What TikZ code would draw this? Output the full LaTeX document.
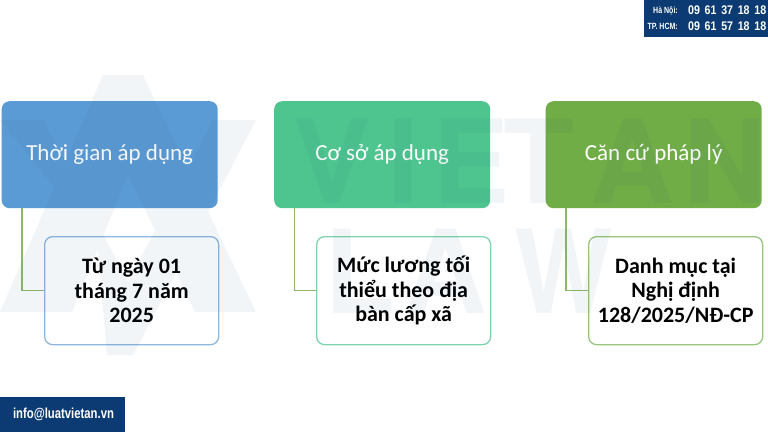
\documentclass[tikz,border=0pt]{standalone}
\usepackage{fontspec}
\setmainfont{Carlito}
\newfontfamily\wmf{TeX Gyre Heros}
\newfontfamily\narrowf[FakeStretch=0.78]{Liberation Sans}
\newfontfamily\phonef[FakeStretch=0.85,WordSpace=1.6]{Liberation Sans}
\tikzset{x=1pt,y=-1pt,
 topbox/.style={rounded corners=8pt,text=white,font=\fontsize{23}{26}\selectfont,minimum width=216pt,minimum height=107pt,inner sep=0pt,anchor=north west},
 subbox/.style={rounded corners=8pt,draw,line width=1.3pt,fill=white,text=black,font=\bfseries\fontsize{22}{24.5}\selectfont,minimum width=174pt,minimum height=108pt,inner sep=0pt,anchor=north west,align=center},
 link/.style={draw=linkgreen,line width=1.3pt},
 wm/.style={fill=wmcol,fill opacity=0.055,draw=none},
 wmtext/.style={text=wmcol,text opacity=0.055,font=\wmf\bfseries\fontsize{116}{116}\selectfont,inner sep=0pt,anchor=base west},
 band/.style={fill=navy,inner sep=0pt,anchor=north west},
 smalltxt/.style={text=white,font=\narrowf\bfseries\fontsize{9}{10}\selectfont,anchor=east,inner sep=0pt},
 phonetxt/.style={text=white,font=\phonef\bfseries\fontsize{12.5}{14}\selectfont,anchor=west,inner sep=0pt},
}
\definecolor{wmcol}{HTML}{1F4E79}
\definecolor{navy}{HTML}{0B3B72}
\definecolor{linkgreen}{HTML}{8DB86B}
\definecolor{cblue}{HTML}{5B9BD5}
\definecolor{cteal}{HTML}{4EC58F}
\definecolor{cgreen}{HTML}{70AD47}
\definecolor{lblue}{HTML}{8DB8DF}
\definecolor{lteal}{HTML}{7FD4AE}
\definecolor{lgreen}{HTML}{98C67C}
\begin{document}
\begin{tikzpicture}
\useasboundingbox (0,0) rectangle (768,432);
\fill[white] (0,0) rectangle (768,432);
\node[topbox,fill=cblue] (a1) at (1.5,101) {\raisebox{-1.5pt}{Thời gian áp dụng}};
\node[topbox,fill=cteal] (b1) at (274,101) {\raisebox{-1.5pt}{Cơ sở áp dụng}};
\node[topbox,fill=cgreen] (c1) at (545.5,101) {\raisebox{-1.5pt}{Căn cứ pháp lý}};
\node[subbox,draw=lblue] (a2) at (44,236) {Từ ngày 01\\tháng 7 năm\\2025};
\node[subbox,draw=lteal] (b2) at (316,236) {Mức lương tối\\thiểu theo địa\\bàn cấp xã};
\node[subbox,draw=lgreen] (c2) at (588,236) {Danh mục tại\\Nghị định\\128/2025/NĐ-CP};
\coordinate (ak) at (22,208);
\coordinate (bk) at (294.5,208);
\coordinate (ck) at (566,208);
\draw[link] (ak) |- (a2.west);
\draw[link] (bk) |- (b2.west);
\draw[link] (ck) |- (c2.west);
% watermark
\fill[wm] (0,312) -- (103,75) -- (143,75) -- (256,312) -- (195,312) -- (128,175) -- (72,312) -- cycle
 (0,120) -- (43,120) -- (128,282) -- (213,120) -- (256,120) -- (133,355) -- (107,355) -- (97,240) -- cycle;
\node[wmtext] (v1) at (293,203) {V};
\node[wmtext] (v2) at (387,203) {I};
\node[wmtext] (v3) at (432,203) {E};
\node[wmtext] (v4) at (503,203) {T};
\node[wmtext] (v5) at (590,203) {A};
\node[wmtext] (v6) at (683,203) {N};
\node[wmtext] (l1) at (324,313) {L};
\node[wmtext] (l2) at (403,313) {A};
\node[wmtext] (l3) at (514,313) {\scalebox{.9}[1]{W}};
% header and footer
\node[band,minimum width=124pt,minimum height=37pt] (hdr) at (644,0) {};
\node[smalltxt] (h1) at (678,11) {Hà Nội:};
\node[smalltxt] (h2) at (678,26.5) {TP. HCM:};
\node[phonetxt] (p1) at (688,10.5) {09 61 37 18 18};
\node[phonetxt] (p2) at (688,26) {09 61 57 18 18};
\node[band,minimum width=124.5pt,minimum height=35pt] (ftr) at (0,397) {};
\node[text=white,font=\narrowf\bfseries\fontsize{14.5}{15}\selectfont,inner sep=0pt] (mail) at (63.5,414.5) {info@luatvietan.vn};
\end{tikzpicture}
\end{document}
